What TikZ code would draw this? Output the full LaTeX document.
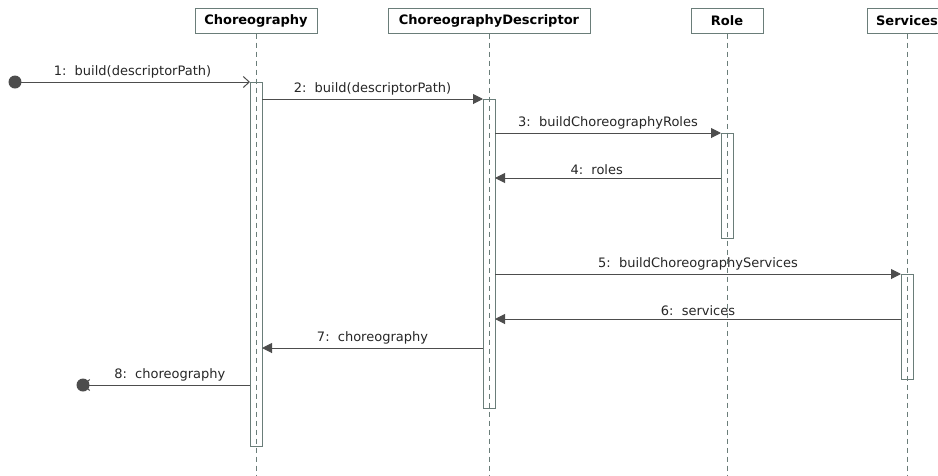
\documentclass[tikz,border=0pt]{standalone}
\usepackage{fontspec}
\setmainfont{DejaVu Sans}
\usetikzlibrary{arrows.meta}
\definecolor{lifec}{HTML}{6A7D79}
\definecolor{msgc}{HTML}{4D4D4D}
\tikzset{
  x=1pt, y=-1pt,
  header/.style={draw=lifec, line width=1pt, fill=white, minimum height=25pt, inner sep=0pt, font=\fontsize{13}{15}\selectfont\bfseries},
  lifeline/.style={draw=lifec, line width=0.9pt, dash pattern=on 5pt off 4pt},
  actbox/.style={draw=lifec, line width=1pt, fill=none},
  call/.style={draw=msgc, line width=1pt, -{Triangle[length=10pt,width=10pt]}},
  reply/.style={draw=msgc, line width=1pt, -{Straight Barb[length=6pt,width=11pt]}},
  msglabel/.style={font=\fontsize{13}{15}\selectfont, text=black!85, inner sep=1pt, above=2pt},
  enddot/.style={circle, fill=msgc, minimum size=13pt, inner sep=0pt}
}
\begin{document}
\begin{tikzpicture}
\useasboundingbox (0,0) rectangle (938,475);
\begin{scope}
\clip (0,0) rectangle (938,475);
% lifeline heads
\node[header, minimum width=122pt] (hc) at (256,20.5) {Choreography};
\node[header, minimum width=202pt] (hd) at (489,20.5) {ChoreographyDescriptor};
\node[header, minimum width=72pt] (hr) at (727,20.5) {Role};
\node[header, minimum width=80pt] (hs) at (907,20.5) {Services};
% lifelines
\coordinate (ec) at (256,475);
\coordinate (ed) at (489,475);
\coordinate (er) at (727,475);
\coordinate (es) at (907,475);
\draw[lifeline] (hc.south) -- (ec);
\draw[lifeline] (hd.south) -- (ed);
\draw[lifeline] (hr.south) -- (er);
\draw[lifeline] (hs.south) -- (es);
% activation bars
\draw[actbox] (250,82) rectangle (262,446);
\draw[actbox] (483,99) rectangle (495,408);
\draw[actbox] (721,133) rectangle (733,238);
\draw[actbox] (901,274) rectangle (913,379);
% message end points
\node[enddot] (start) at (15,82) {};
\node[enddot] (stop) at (83,385) {};
\coordinate (c1) at (250,82);
\coordinate (c2s) at (262,99);  \coordinate (d2) at (483,99);
\coordinate (d3) at (495,133);  \coordinate (r3) at (721,133);
\coordinate (r4) at (721,178);  \coordinate (d4) at (495,178);
\coordinate (d5) at (495,274);  \coordinate (s5) at (901,274);
\coordinate (s6) at (901,319);  \coordinate (d6) at (495,319);
\coordinate (d7) at (483,348);  \coordinate (c7) at (262,348);
\coordinate (c8) at (250,385);
% messages
\draw[reply] (start.center) -- (c1) node[msglabel, midway] {1:\ \ build(descriptorPath)};
\draw[call] (c2s) -- (d2) node[msglabel, midway] {2:\ \ build(descriptorPath)};
\draw[call] (d3) -- (r3) node[msglabel, midway] {3:\ \ buildChoreographyRoles};
\draw[call] (r4) -- (d4) node[msglabel, pos=0.55] {4:\ \ roles};
\draw[call] (d5) -- (s5) node[msglabel, midway] {5:\ \ buildChoreographyServices};
\draw[call] (s6) -- (d6) node[msglabel, midway] {6:\ \ services};
\draw[call] (d7) -- (c7) node[msglabel, midway] {7:\ \ choreography};
\draw[reply] (c8) -- (stop.center) node[msglabel, pos=0.48] {8:\ \ choreography};
\end{scope}
\end{tikzpicture}
\end{document}
